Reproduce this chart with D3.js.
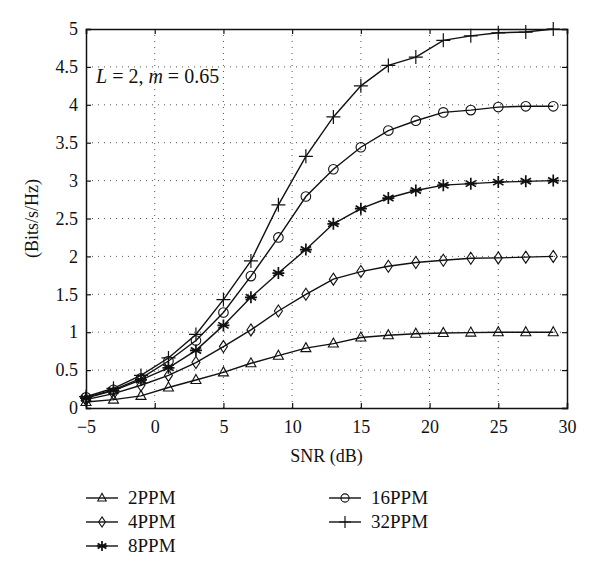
<!DOCTYPE html>
<html>
<head>
<meta charset="utf-8">
<script src="https://cdn.jsdelivr.net/npm/d3@7"></script>
<style>
  body { margin: 0; background: #fff; }
  svg text { font-family: "Liberation Serif", "DejaVu Serif", serif; fill: #111; }
</style>
</head>
<body>
<div id="mainDiv"></div>
<script>
'use strict';

// SNR values (dB)
var snr = [-5, -3, -1, 1, 3, 5, 7, 9, 11, 13, 15, 17, 19, 21, 23, 25, 27, 29];

// capacity (Bits/s/Hz) per modulation
var ppm2  = [0.08, 0.11, 0.16, 0.27, 0.37, 0.47, 0.59, 0.69, 0.79, 0.85, 0.93, 0.96, 0.98, 0.99, 0.995, 1.0, 1.0, 1.0];
var ppm4  = [0.11, 0.19, 0.30, 0.43, 0.60, 0.81, 1.03, 1.28, 1.50, 1.70, 1.80, 1.87, 1.92, 1.95, 1.975, 1.98, 1.99, 2.0];
var ppm8  = [0.13, 0.23, 0.37, 0.53, 0.76, 1.09, 1.46, 1.78, 2.09, 2.43, 2.63, 2.77, 2.87, 2.94, 2.96, 2.98, 2.99, 3.0];
var ppm16 = [0.14, 0.24, 0.39, 0.62, 0.89, 1.26, 1.74, 2.25, 2.79, 3.15, 3.44, 3.66, 3.79, 3.90, 3.93, 3.97, 3.98, 3.98];
var ppm32 = [0.15, 0.26, 0.43, 0.66, 0.97, 1.43, 1.94, 2.68, 3.32, 3.84, 4.25, 4.52, 4.63, 4.85, 4.91, 4.95, 4.96, 5.0];

var seriesNames = ['2PPM', '4PPM', '8PPM', '16PPM', '32PPM'];
var seriesMarkers = ['triangle', 'diamond', 'star', 'circle', 'plus'];

var xTicks = [-5, 0, 5, 10, 15, 20, 25, 30];
var yTicks = [0, 0.5, 1, 1.5, 2, 2.5, 3, 3.5, 4, 4.5, 5];

var myApp = {};

myApp.w = 600;
myApp.h = 575;
myApp.margins = { top: 29, left: 86, right: 33, bottom: 167 };
myApp.cw = myApp.w - myApp.margins.left - myApp.margins.right;
myApp.ch = myApp.h - myApp.margins.top - myApp.margins.bottom;

myApp.series = [ppm2, ppm4, ppm8, ppm16, ppm32].map(function (vals, i) {
    return {
        name: seriesNames[i],
        marker: seriesMarkers[i],
        points: vals.map(function (v, j) { return [snr[j], v]; })
    };
});

myApp.xScale = d3.scaleLinear().domain([-5, 30]).range([0, myApp.cw]);
myApp.yScale = d3.scaleLinear().domain([0, 5]).range([myApp.ch, 0]);

myApp.drawMarker = function (g, type, x, y, k) {
    k = k || 1;
    var m = g.append('path')
        .attr('transform', 'translate(' + x + ',' + y + ') scale(' + k + ')')
        .attr('fill', 'none')
        .attr('stroke', '#111')
        .attr('stroke-width', 1.1 / k);
    if (type === 'triangle') {
        m.attr('d', 'M0,-5.5L5,3.5L-5,3.5Z');
    } else if (type === 'diamond') {
        m.attr('d', 'M0,-6L4,0L0,6L-4,0Z');
    } else if (type === 'circle') {
        m.attr('d', d3.arc()({ innerRadius: 0, outerRadius: 4.8, startAngle: 0, endAngle: 2 * Math.PI }));
    } else if (type === 'star') {
        m.attr('d', 'M0,-6V6M-5.2,-3L5.2,3M-5.2,3L5.2,-3M-6,0H6').attr('stroke-width', 1.7 / k);
    } else if (type === 'plus') {
        m.attr('d', 'M0,-7V7M-7,0H7').attr('stroke-width', 1.2 / k);
    }
};

myApp.run = function () {
    var svg = d3.select('#mainDiv').append('svg')
        .attr('width', myApp.w)
        .attr('height', myApp.h);

    var g = svg.append('g')
        .attr('transform', 'translate(' + myApp.margins.left + ',' + myApp.margins.top + ')');

    // dotted grid
    g.append('g').selectAll('line.vg')
        .data(xTicks.slice(1, -1))
        .enter().append('line')
            .attr('x1', function (d) { return myApp.xScale(d); })
            .attr('x2', function (d) { return myApp.xScale(d); })
            .attr('y1', 0).attr('y2', myApp.ch)
            .attr('stroke', '#555').attr('stroke-width', 1)
            .attr('stroke-dasharray', '1,5');
    g.append('g').selectAll('line.hg')
        .data(yTicks.slice(1, -1))
        .enter().append('line')
            .attr('y1', function (d) { return myApp.yScale(d); })
            .attr('y2', function (d) { return myApp.yScale(d); })
            .attr('x1', 0).attr('x2', myApp.cw)
            .attr('stroke', '#555').attr('stroke-width', 1)
            .attr('stroke-dasharray', '1,5');

    // axes (inward ticks on all sides)
    var fmt = function (d) { return d < 0 ? '\u2212' + Math.abs(d) : String(d); };
    var xAxis = g.append('g').attr('transform', 'translate(0,' + myApp.ch + ')')
        .call(d3.axisBottom(myApp.xScale).tickValues(xTicks).tickSize(-5).tickPadding(12).tickFormat(fmt));
    var yAxis = g.append('g')
        .call(d3.axisLeft(myApp.yScale).tickValues(yTicks).tickSize(-5).tickPadding(8).tickFormat(d3.format('')));
    var xTop = g.append('g')
        .call(d3.axisTop(myApp.xScale).tickValues(xTicks).tickSize(-5).tickFormat(''));
    var yRight = g.append('g').attr('transform', 'translate(' + myApp.cw + ',0)')
        .call(d3.axisRight(myApp.yScale).tickValues(yTicks).tickSize(-5).tickFormat(''));

    [xAxis, yAxis, xTop, yRight].forEach(function (a) {
        a.select('.domain').attr('stroke', '#111').attr('stroke-width', 1.5);
        a.selectAll('.tick line').attr('stroke', '#111').attr('stroke-width', 1.2);
        a.selectAll('text').attr('font-size', '18px').attr('font-family', null);
    });

    // lines and markers
    var line = d3.line()
        .x(function (d) { return myApp.xScale(d[0]); })
        .y(function (d) { return myApp.yScale(d[1]); });

    myApp.series.forEach(function (s) {
        g.append('path')
            .attr('d', line(s.points))
            .attr('fill', 'none')
            .attr('stroke', '#111')
            .attr('stroke-width', 1.4);
        var mg = g.append('g');
        s.points.forEach(function (p) {
            myApp.drawMarker(mg, s.marker, myApp.xScale(p[0]), myApp.yScale(p[1]));
        });
    });

    // annotation
    var ann = g.append('text').attr('x', 10).attr('y', 54).attr('font-size', '20px');
    ann.append('tspan').attr('font-style', 'italic').text('L');
    ann.append('tspan').text(' = 2, ');
    ann.append('tspan').attr('font-style', 'italic').text('m');
    ann.append('tspan').text(' = 0.65');

    // axis titles
    svg.append('text')
        .attr('x', myApp.margins.left + myApp.cw / 2)
        .attr('y', 462)
        .attr('text-anchor', 'middle')
        .attr('font-size', '18px')
        .text('SNR (dB)');
    svg.append('text')
        .attr('transform', 'translate(38,' + (myApp.margins.top + myApp.ch / 2) + ') rotate(-90)')
        .attr('text-anchor', 'middle')
        .attr('font-size', '18px')
        .text('(Bits/s/Hz)');

    // legend
    var legendPos = [[86, 498], [86, 522], [86, 546], [329, 498], [329, 522]];
    myApp.series.forEach(function (s, i) {
        var lx = legendPos[i][0], ly = legendPos[i][1];
        var lg = svg.append('g');
        lg.append('line')
            .attr('x1', lx).attr('x2', lx + 32)
            .attr('y1', ly).attr('y2', ly)
            .attr('stroke', '#111').attr('stroke-width', 1.4);
        myApp.drawMarker(lg, s.marker, lx + 16, ly, 0.85);
        lg.append('text')
            .attr('x', lx + 42).attr('y', ly + 6)
            .attr('font-size', '19px')
            .text(s.name);
    });
};

window.onload = myApp.run;
</script>
</body>
</html>
